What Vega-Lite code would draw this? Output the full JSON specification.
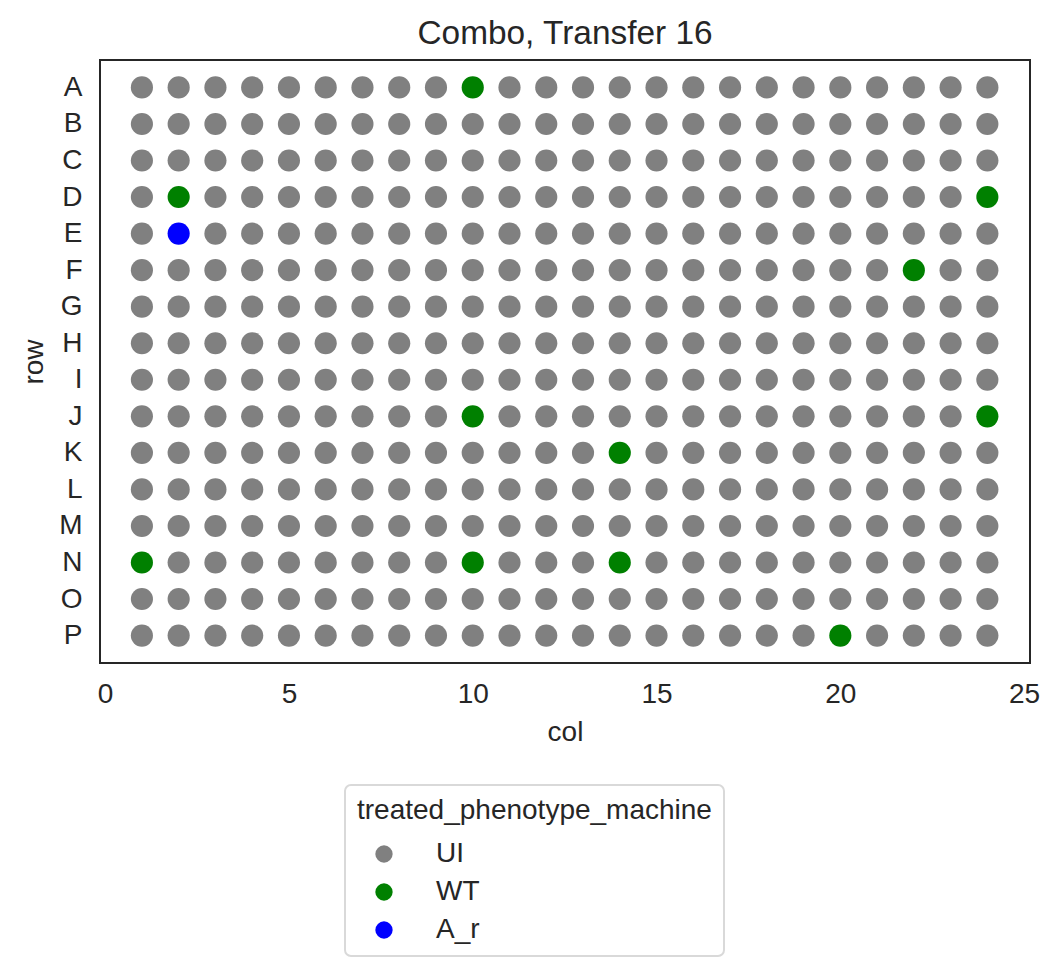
{
  "$schema": "https://vega.github.io/schema/vega-lite/v6.json",
  "width": 930,
  "height": 603,
  "autosize": {"type": "none"},
  "padding": {"left": 100, "top": 60, "right": 29, "bottom": 310},
  "background": "white",
  "title": {"text": "Combo, Transfer 16", "fontSize": 33.4, "font": "Liberation Sans", "fontWeight": "normal", "color": "#262626", "offset": 9},
  "config": {
    "view": {"stroke": "#262626", "strokeWidth": 2},
    "font": "Liberation Sans",
    "legend": {"strokeWidth": 2},
    "axis": {"grid": false, "ticks": false, "domain": false, "labelFont": "Liberation Sans", "titleFont": "Liberation Sans", "labelColor": "#262626", "titleColor": "#262626", "labelFontSize": 28, "titleFontSize": 28, "titleFontWeight": "normal"}
  },
  "data": {"values": [
    {"r":"A","c":1,"t":"UI"},{"r":"A","c":2,"t":"UI"},{"r":"A","c":3,"t":"UI"},{"r":"A","c":4,"t":"UI"},{"r":"A","c":5,"t":"UI"},{"r":"A","c":6,"t":"UI"},{"r":"A","c":7,"t":"UI"},{"r":"A","c":8,"t":"UI"},{"r":"A","c":9,"t":"UI"},{"r":"A","c":10,"t":"WT"},{"r":"A","c":11,"t":"UI"},{"r":"A","c":12,"t":"UI"},{"r":"A","c":13,"t":"UI"},{"r":"A","c":14,"t":"UI"},{"r":"A","c":15,"t":"UI"},{"r":"A","c":16,"t":"UI"},{"r":"A","c":17,"t":"UI"},{"r":"A","c":18,"t":"UI"},{"r":"A","c":19,"t":"UI"},{"r":"A","c":20,"t":"UI"},{"r":"A","c":21,"t":"UI"},{"r":"A","c":22,"t":"UI"},{"r":"A","c":23,"t":"UI"},{"r":"A","c":24,"t":"UI"},
    {"r":"B","c":1,"t":"UI"},{"r":"B","c":2,"t":"UI"},{"r":"B","c":3,"t":"UI"},{"r":"B","c":4,"t":"UI"},{"r":"B","c":5,"t":"UI"},{"r":"B","c":6,"t":"UI"},{"r":"B","c":7,"t":"UI"},{"r":"B","c":8,"t":"UI"},{"r":"B","c":9,"t":"UI"},{"r":"B","c":10,"t":"UI"},{"r":"B","c":11,"t":"UI"},{"r":"B","c":12,"t":"UI"},{"r":"B","c":13,"t":"UI"},{"r":"B","c":14,"t":"UI"},{"r":"B","c":15,"t":"UI"},{"r":"B","c":16,"t":"UI"},{"r":"B","c":17,"t":"UI"},{"r":"B","c":18,"t":"UI"},{"r":"B","c":19,"t":"UI"},{"r":"B","c":20,"t":"UI"},{"r":"B","c":21,"t":"UI"},{"r":"B","c":22,"t":"UI"},{"r":"B","c":23,"t":"UI"},{"r":"B","c":24,"t":"UI"},
    {"r":"C","c":1,"t":"UI"},{"r":"C","c":2,"t":"UI"},{"r":"C","c":3,"t":"UI"},{"r":"C","c":4,"t":"UI"},{"r":"C","c":5,"t":"UI"},{"r":"C","c":6,"t":"UI"},{"r":"C","c":7,"t":"UI"},{"r":"C","c":8,"t":"UI"},{"r":"C","c":9,"t":"UI"},{"r":"C","c":10,"t":"UI"},{"r":"C","c":11,"t":"UI"},{"r":"C","c":12,"t":"UI"},{"r":"C","c":13,"t":"UI"},{"r":"C","c":14,"t":"UI"},{"r":"C","c":15,"t":"UI"},{"r":"C","c":16,"t":"UI"},{"r":"C","c":17,"t":"UI"},{"r":"C","c":18,"t":"UI"},{"r":"C","c":19,"t":"UI"},{"r":"C","c":20,"t":"UI"},{"r":"C","c":21,"t":"UI"},{"r":"C","c":22,"t":"UI"},{"r":"C","c":23,"t":"UI"},{"r":"C","c":24,"t":"UI"},
    {"r":"D","c":1,"t":"UI"},{"r":"D","c":2,"t":"WT"},{"r":"D","c":3,"t":"UI"},{"r":"D","c":4,"t":"UI"},{"r":"D","c":5,"t":"UI"},{"r":"D","c":6,"t":"UI"},{"r":"D","c":7,"t":"UI"},{"r":"D","c":8,"t":"UI"},{"r":"D","c":9,"t":"UI"},{"r":"D","c":10,"t":"UI"},{"r":"D","c":11,"t":"UI"},{"r":"D","c":12,"t":"UI"},{"r":"D","c":13,"t":"UI"},{"r":"D","c":14,"t":"UI"},{"r":"D","c":15,"t":"UI"},{"r":"D","c":16,"t":"UI"},{"r":"D","c":17,"t":"UI"},{"r":"D","c":18,"t":"UI"},{"r":"D","c":19,"t":"UI"},{"r":"D","c":20,"t":"UI"},{"r":"D","c":21,"t":"UI"},{"r":"D","c":22,"t":"UI"},{"r":"D","c":23,"t":"UI"},{"r":"D","c":24,"t":"WT"},
    {"r":"E","c":1,"t":"UI"},{"r":"E","c":2,"t":"A_r"},{"r":"E","c":3,"t":"UI"},{"r":"E","c":4,"t":"UI"},{"r":"E","c":5,"t":"UI"},{"r":"E","c":6,"t":"UI"},{"r":"E","c":7,"t":"UI"},{"r":"E","c":8,"t":"UI"},{"r":"E","c":9,"t":"UI"},{"r":"E","c":10,"t":"UI"},{"r":"E","c":11,"t":"UI"},{"r":"E","c":12,"t":"UI"},{"r":"E","c":13,"t":"UI"},{"r":"E","c":14,"t":"UI"},{"r":"E","c":15,"t":"UI"},{"r":"E","c":16,"t":"UI"},{"r":"E","c":17,"t":"UI"},{"r":"E","c":18,"t":"UI"},{"r":"E","c":19,"t":"UI"},{"r":"E","c":20,"t":"UI"},{"r":"E","c":21,"t":"UI"},{"r":"E","c":22,"t":"UI"},{"r":"E","c":23,"t":"UI"},{"r":"E","c":24,"t":"UI"},
    {"r":"F","c":1,"t":"UI"},{"r":"F","c":2,"t":"UI"},{"r":"F","c":3,"t":"UI"},{"r":"F","c":4,"t":"UI"},{"r":"F","c":5,"t":"UI"},{"r":"F","c":6,"t":"UI"},{"r":"F","c":7,"t":"UI"},{"r":"F","c":8,"t":"UI"},{"r":"F","c":9,"t":"UI"},{"r":"F","c":10,"t":"UI"},{"r":"F","c":11,"t":"UI"},{"r":"F","c":12,"t":"UI"},{"r":"F","c":13,"t":"UI"},{"r":"F","c":14,"t":"UI"},{"r":"F","c":15,"t":"UI"},{"r":"F","c":16,"t":"UI"},{"r":"F","c":17,"t":"UI"},{"r":"F","c":18,"t":"UI"},{"r":"F","c":19,"t":"UI"},{"r":"F","c":20,"t":"UI"},{"r":"F","c":21,"t":"UI"},{"r":"F","c":22,"t":"WT"},{"r":"F","c":23,"t":"UI"},{"r":"F","c":24,"t":"UI"},
    {"r":"G","c":1,"t":"UI"},{"r":"G","c":2,"t":"UI"},{"r":"G","c":3,"t":"UI"},{"r":"G","c":4,"t":"UI"},{"r":"G","c":5,"t":"UI"},{"r":"G","c":6,"t":"UI"},{"r":"G","c":7,"t":"UI"},{"r":"G","c":8,"t":"UI"},{"r":"G","c":9,"t":"UI"},{"r":"G","c":10,"t":"UI"},{"r":"G","c":11,"t":"UI"},{"r":"G","c":12,"t":"UI"},{"r":"G","c":13,"t":"UI"},{"r":"G","c":14,"t":"UI"},{"r":"G","c":15,"t":"UI"},{"r":"G","c":16,"t":"UI"},{"r":"G","c":17,"t":"UI"},{"r":"G","c":18,"t":"UI"},{"r":"G","c":19,"t":"UI"},{"r":"G","c":20,"t":"UI"},{"r":"G","c":21,"t":"UI"},{"r":"G","c":22,"t":"UI"},{"r":"G","c":23,"t":"UI"},{"r":"G","c":24,"t":"UI"},
    {"r":"H","c":1,"t":"UI"},{"r":"H","c":2,"t":"UI"},{"r":"H","c":3,"t":"UI"},{"r":"H","c":4,"t":"UI"},{"r":"H","c":5,"t":"UI"},{"r":"H","c":6,"t":"UI"},{"r":"H","c":7,"t":"UI"},{"r":"H","c":8,"t":"UI"},{"r":"H","c":9,"t":"UI"},{"r":"H","c":10,"t":"UI"},{"r":"H","c":11,"t":"UI"},{"r":"H","c":12,"t":"UI"},{"r":"H","c":13,"t":"UI"},{"r":"H","c":14,"t":"UI"},{"r":"H","c":15,"t":"UI"},{"r":"H","c":16,"t":"UI"},{"r":"H","c":17,"t":"UI"},{"r":"H","c":18,"t":"UI"},{"r":"H","c":19,"t":"UI"},{"r":"H","c":20,"t":"UI"},{"r":"H","c":21,"t":"UI"},{"r":"H","c":22,"t":"UI"},{"r":"H","c":23,"t":"UI"},{"r":"H","c":24,"t":"UI"},
    {"r":"I","c":1,"t":"UI"},{"r":"I","c":2,"t":"UI"},{"r":"I","c":3,"t":"UI"},{"r":"I","c":4,"t":"UI"},{"r":"I","c":5,"t":"UI"},{"r":"I","c":6,"t":"UI"},{"r":"I","c":7,"t":"UI"},{"r":"I","c":8,"t":"UI"},{"r":"I","c":9,"t":"UI"},{"r":"I","c":10,"t":"UI"},{"r":"I","c":11,"t":"UI"},{"r":"I","c":12,"t":"UI"},{"r":"I","c":13,"t":"UI"},{"r":"I","c":14,"t":"UI"},{"r":"I","c":15,"t":"UI"},{"r":"I","c":16,"t":"UI"},{"r":"I","c":17,"t":"UI"},{"r":"I","c":18,"t":"UI"},{"r":"I","c":19,"t":"UI"},{"r":"I","c":20,"t":"UI"},{"r":"I","c":21,"t":"UI"},{"r":"I","c":22,"t":"UI"},{"r":"I","c":23,"t":"UI"},{"r":"I","c":24,"t":"UI"},
    {"r":"J","c":1,"t":"UI"},{"r":"J","c":2,"t":"UI"},{"r":"J","c":3,"t":"UI"},{"r":"J","c":4,"t":"UI"},{"r":"J","c":5,"t":"UI"},{"r":"J","c":6,"t":"UI"},{"r":"J","c":7,"t":"UI"},{"r":"J","c":8,"t":"UI"},{"r":"J","c":9,"t":"UI"},{"r":"J","c":10,"t":"WT"},{"r":"J","c":11,"t":"UI"},{"r":"J","c":12,"t":"UI"},{"r":"J","c":13,"t":"UI"},{"r":"J","c":14,"t":"UI"},{"r":"J","c":15,"t":"UI"},{"r":"J","c":16,"t":"UI"},{"r":"J","c":17,"t":"UI"},{"r":"J","c":18,"t":"UI"},{"r":"J","c":19,"t":"UI"},{"r":"J","c":20,"t":"UI"},{"r":"J","c":21,"t":"UI"},{"r":"J","c":22,"t":"UI"},{"r":"J","c":23,"t":"UI"},{"r":"J","c":24,"t":"WT"},
    {"r":"K","c":1,"t":"UI"},{"r":"K","c":2,"t":"UI"},{"r":"K","c":3,"t":"UI"},{"r":"K","c":4,"t":"UI"},{"r":"K","c":5,"t":"UI"},{"r":"K","c":6,"t":"UI"},{"r":"K","c":7,"t":"UI"},{"r":"K","c":8,"t":"UI"},{"r":"K","c":9,"t":"UI"},{"r":"K","c":10,"t":"UI"},{"r":"K","c":11,"t":"UI"},{"r":"K","c":12,"t":"UI"},{"r":"K","c":13,"t":"UI"},{"r":"K","c":14,"t":"WT"},{"r":"K","c":15,"t":"UI"},{"r":"K","c":16,"t":"UI"},{"r":"K","c":17,"t":"UI"},{"r":"K","c":18,"t":"UI"},{"r":"K","c":19,"t":"UI"},{"r":"K","c":20,"t":"UI"},{"r":"K","c":21,"t":"UI"},{"r":"K","c":22,"t":"UI"},{"r":"K","c":23,"t":"UI"},{"r":"K","c":24,"t":"UI"},
    {"r":"L","c":1,"t":"UI"},{"r":"L","c":2,"t":"UI"},{"r":"L","c":3,"t":"UI"},{"r":"L","c":4,"t":"UI"},{"r":"L","c":5,"t":"UI"},{"r":"L","c":6,"t":"UI"},{"r":"L","c":7,"t":"UI"},{"r":"L","c":8,"t":"UI"},{"r":"L","c":9,"t":"UI"},{"r":"L","c":10,"t":"UI"},{"r":"L","c":11,"t":"UI"},{"r":"L","c":12,"t":"UI"},{"r":"L","c":13,"t":"UI"},{"r":"L","c":14,"t":"UI"},{"r":"L","c":15,"t":"UI"},{"r":"L","c":16,"t":"UI"},{"r":"L","c":17,"t":"UI"},{"r":"L","c":18,"t":"UI"},{"r":"L","c":19,"t":"UI"},{"r":"L","c":20,"t":"UI"},{"r":"L","c":21,"t":"UI"},{"r":"L","c":22,"t":"UI"},{"r":"L","c":23,"t":"UI"},{"r":"L","c":24,"t":"UI"},
    {"r":"M","c":1,"t":"UI"},{"r":"M","c":2,"t":"UI"},{"r":"M","c":3,"t":"UI"},{"r":"M","c":4,"t":"UI"},{"r":"M","c":5,"t":"UI"},{"r":"M","c":6,"t":"UI"},{"r":"M","c":7,"t":"UI"},{"r":"M","c":8,"t":"UI"},{"r":"M","c":9,"t":"UI"},{"r":"M","c":10,"t":"UI"},{"r":"M","c":11,"t":"UI"},{"r":"M","c":12,"t":"UI"},{"r":"M","c":13,"t":"UI"},{"r":"M","c":14,"t":"UI"},{"r":"M","c":15,"t":"UI"},{"r":"M","c":16,"t":"UI"},{"r":"M","c":17,"t":"UI"},{"r":"M","c":18,"t":"UI"},{"r":"M","c":19,"t":"UI"},{"r":"M","c":20,"t":"UI"},{"r":"M","c":21,"t":"UI"},{"r":"M","c":22,"t":"UI"},{"r":"M","c":23,"t":"UI"},{"r":"M","c":24,"t":"UI"},
    {"r":"N","c":1,"t":"WT"},{"r":"N","c":2,"t":"UI"},{"r":"N","c":3,"t":"UI"},{"r":"N","c":4,"t":"UI"},{"r":"N","c":5,"t":"UI"},{"r":"N","c":6,"t":"UI"},{"r":"N","c":7,"t":"UI"},{"r":"N","c":8,"t":"UI"},{"r":"N","c":9,"t":"UI"},{"r":"N","c":10,"t":"WT"},{"r":"N","c":11,"t":"UI"},{"r":"N","c":12,"t":"UI"},{"r":"N","c":13,"t":"UI"},{"r":"N","c":14,"t":"WT"},{"r":"N","c":15,"t":"UI"},{"r":"N","c":16,"t":"UI"},{"r":"N","c":17,"t":"UI"},{"r":"N","c":18,"t":"UI"},{"r":"N","c":19,"t":"UI"},{"r":"N","c":20,"t":"UI"},{"r":"N","c":21,"t":"UI"},{"r":"N","c":22,"t":"UI"},{"r":"N","c":23,"t":"UI"},{"r":"N","c":24,"t":"UI"},
    {"r":"O","c":1,"t":"UI"},{"r":"O","c":2,"t":"UI"},{"r":"O","c":3,"t":"UI"},{"r":"O","c":4,"t":"UI"},{"r":"O","c":5,"t":"UI"},{"r":"O","c":6,"t":"UI"},{"r":"O","c":7,"t":"UI"},{"r":"O","c":8,"t":"UI"},{"r":"O","c":9,"t":"UI"},{"r":"O","c":10,"t":"UI"},{"r":"O","c":11,"t":"UI"},{"r":"O","c":12,"t":"UI"},{"r":"O","c":13,"t":"UI"},{"r":"O","c":14,"t":"UI"},{"r":"O","c":15,"t":"UI"},{"r":"O","c":16,"t":"UI"},{"r":"O","c":17,"t":"UI"},{"r":"O","c":18,"t":"UI"},{"r":"O","c":19,"t":"UI"},{"r":"O","c":20,"t":"UI"},{"r":"O","c":21,"t":"UI"},{"r":"O","c":22,"t":"UI"},{"r":"O","c":23,"t":"UI"},{"r":"O","c":24,"t":"UI"},
    {"r":"P","c":1,"t":"UI"},{"r":"P","c":2,"t":"UI"},{"r":"P","c":3,"t":"UI"},{"r":"P","c":4,"t":"UI"},{"r":"P","c":5,"t":"UI"},{"r":"P","c":6,"t":"UI"},{"r":"P","c":7,"t":"UI"},{"r":"P","c":8,"t":"UI"},{"r":"P","c":9,"t":"UI"},{"r":"P","c":10,"t":"UI"},{"r":"P","c":11,"t":"UI"},{"r":"P","c":12,"t":"UI"},{"r":"P","c":13,"t":"UI"},{"r":"P","c":14,"t":"UI"},{"r":"P","c":15,"t":"UI"},{"r":"P","c":16,"t":"UI"},{"r":"P","c":17,"t":"UI"},{"r":"P","c":18,"t":"UI"},{"r":"P","c":19,"t":"UI"},{"r":"P","c":20,"t":"WT"},{"r":"P","c":21,"t":"UI"},{"r":"P","c":22,"t":"UI"},{"r":"P","c":23,"t":"UI"},{"r":"P","c":24,"t":"UI"}
  ]},
  "mark": {"type": "point", "filled": true, "opacity": 1, "size": 490, "shape": "circle"},
  "encoding": {
    "x": {"field": "c", "type": "quantitative", "title": "col",
      "scale": {"domain": [-0.14, 25.16], "nice": false, "zero": false},
      "axis": {"values": [0, 5, 10, 15, 20, 25], "labelPadding": 17, "titlePadding": 10, "labelFlush": false}},
    "y": {"field": "r", "type": "nominal", "title": "row",
      "scale": {"type": "point", "padding": 0.75, "domain": ["A","B","C","D","E","F","G","H","I","J","K","L","M","N","O","P"]},
      "axis": {"labelPadding": 18, "titlePadding": 10}},
    "color": {"field": "t", "type": "nominal", "title": "treated_phenotype_machine",
      "scale": {"domain": ["UI", "WT", "A_r"], "range": ["#808080", "#008000", "#0000ff"]},
      "legend": {"orient": "none", "legendX": 245, "legendY": 725, "direction": "vertical",
        "strokeColor": "#d9d9d9", "cornerRadius": 6, "padding": 12, "fillColor": "white",
        "symbolType": "circle", "symbolSize": 300, "symbolStrokeWidth": 0, "symbolOffset": 13, "labelOffset": 38, "rowPadding": 10,
        "labelFontSize": 28, "titleFontSize": 28, "titleFontWeight": "normal", "labelFont": "Liberation Sans", "titleFont": "Liberation Sans",
        "labelColor": "#262626", "titleColor": "#262626", "titlePadding": 15, "titleLimit": 600}}
  }
}
